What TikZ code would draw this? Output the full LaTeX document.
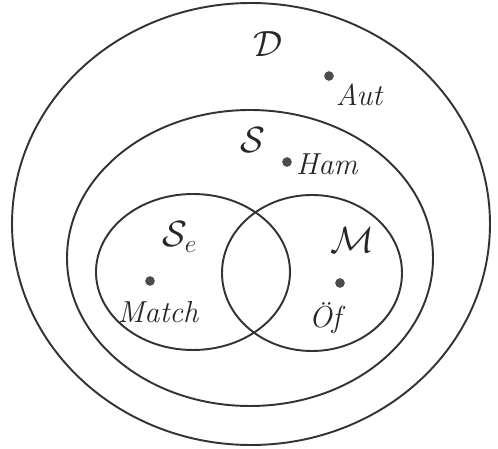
\documentclass[tikz,border=0pt]{standalone}
\usepackage{amsmath,amssymb}
\usetikzlibrary{shapes.geometric}

\tikzset{
  setline/.style={line width=1.1pt, black!80},
  setname/.style={font=\huge, black!85},
  elem/.style={circle, fill=black!70, inner sep=0pt, minimum size=5.5pt},
  elemlabel/.style={font=\LARGE\itshape, black!85}
}

\begin{document}
\begin{tikzpicture}[x=0.02cm, y=-0.02cm]
    \useasboundingbox (0,0) rectangle (498,449);

    % --- Sets (outer to inner) ---
    \draw[setline] (251,224) ellipse (239 and 221);   % D
    \draw[setline] (250,258) ellipse (183 and 148);   % S
    \draw[setline] (193,272) ellipse (97 and 78);     % S_e
    \draw[setline] (312,273) ellipse (90 and 78);     % M

    % --- Set names ---
    \node[setname] (nameD) at (268,44) {$\mathcal{D}$};
    \node[setname] (nameS) at (253,140) {$\mathcal{S}$};
    \node[setname] (nameSe) at (180,237) {$\mathcal{S}_e$};
    \node[setname] (nameM) at (352,240) {$\mathcal{M}$};

    % --- Elements ---
    \node[elem] (aut) at (329,76) {};
    \node[elemlabel] (autl) at (359,95) {Aut};

    \node[elem] (ham) at (287,162) {};
    \node[elemlabel] (haml) at (327,164) {Ham};

    \node[elem] (match) at (150,281) {};
    \node[elemlabel] (matchl) at (158,312) {Match};

    \node[elem] (oef) at (340,283) {};
    \node[elemlabel] (oefl) at (325,318) {Öf};
\end{tikzpicture}
\end{document}
